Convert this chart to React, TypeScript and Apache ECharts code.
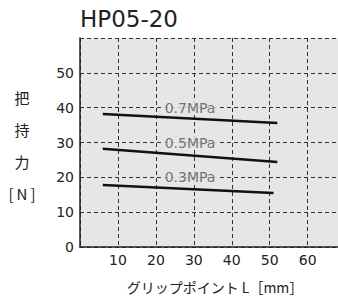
import React, { useEffect, useRef } from "react";
import * as echarts from "echarts";

const title = "HP05-20";
const yAxisTitle = "把\n持\n力\n[\u2009N\u2009]";
const xAxisTitle = "グリップポイント L［mm］";

const pressureNames = ["0.7MPa", "0.5MPa", "0.3MPa"];
const lineX07 = [6, 52];
const force07 = [38.2, 35.6];
const lineX05 = [6, 52];
const force05 = [28.2, 24.4];
const lineX03 = [6, 51];
const force03 = [17.8, 15.5];
const labelX = [29, 29, 29];
const labelY = [40, 30, 20];

const num = "'DejaVu Sans', sans-serif";
const jp = "'Noto Sans CJK JP', sans-serif";

export default function App() {
  const ref = useRef<HTMLDivElement>(null);
  useEffect(() => {
    if (!ref.current) return;
    const chart = echarts.init(ref.current, null, { renderer: "svg" });
    const mk = (xs: number[], ys: number[]) => xs.map((x, i) => [x, ys[i]]);
    const option: any = {
      animation: false,
      grid: {
        left: 80,
        top: 38,
        right: 0,
        bottom: 51,
        show: true,
        backgroundColor: "#e6e6e6",
        borderWidth: 0,
        containLabel: false,
        outerBoundsMode: "none",
      },
      xAxis: {
        type: "value",
        min: 0,
        max: 68,
        interval: 10,
        axisLine: { show: true, onZero: false, lineStyle: { color: "#222", width: 1.5 } },
        axisTick: { show: false },
        axisLabel: {
          formatter: (v: number) => (v === 0 || v > 60 ? "" : String(v)),
          showMaxLabel: false,
          color: "#222",
          fontSize: 14,
          margin: 6,
          fontFamily: num,
        },
        splitLine: {
          show: true,
          showMaxLine: false,
          lineStyle: { type: [4, 3], color: "#333", width: 1 },
        },
      },
      yAxis: {
        type: "value",
        min: 0,
        max: 60,
        interval: 10,
        axisLine: { show: true, onZero: false, lineStyle: { color: "#222", width: 1.5 } },
        axisTick: { show: false },
        axisLabel: {
          formatter: (v: number) => (v === 60 ? "" : String(v)),
          color: "#222",
          fontSize: 14,
          margin: 6,
          fontFamily: num,
        },
        splitLine: { show: true, lineStyle: { type: [4, 3], color: "#333", width: 1 } },
      },
      series: [
        { type: "line", data: mk(lineX07, force07), symbol: "none", lineStyle: { color: "#111", width: 2.5 } },
        { type: "line", data: mk(lineX05, force05), symbol: "none", lineStyle: { color: "#111", width: 2.5 } },
        { type: "line", data: mk(lineX03, force03), symbol: "none", lineStyle: { color: "#111", width: 2.5 } },
        {
          type: "scatter",
          symbolSize: 0,
          z: 5,
          data: labelX.map((x, i) => ({ value: [x, labelY[i]], name: pressureNames[i] })),
          label: {
            show: true,
            position: "inside",
            formatter: (p: any) => p.name,
            color: "#555",
            fontSize: 14,
            fontFamily: num,
            backgroundColor: "#e6e6e6",
            padding: [0, 2],
          },
        },
      ],
      graphic: [
        {
          type: "text",
          left: 80,
          top: 7,
          style: { text: title, fontSize: 23, fontFamily: num, fill: "#222" },
        },
        {
          type: "text",
          x: 22,
          y: 145,
          style: {
            text: yAxisTitle,
            fontSize: 15,
            fontFamily: jp,
            fill: "#222",
            align: "center",
            verticalAlign: "middle",
            lineHeight: 32,
          },
        },
        {
          type: "text",
          x: 215,
          y: 287,
          style: {
            text: xAxisTitle,
            fontSize: 14,
            fontFamily: jp,
            fill: "#222",
            align: "center",
            verticalAlign: "middle",
          },
        },
      ],
    };
    chart.setOption(option);
    return () => chart.dispose();
  }, []);
  return (
    <div
      ref={ref}
      style={{ position: "fixed", left: 0, top: 0, width: 338, height: 298, background: "#fff" }}
    />
  );
}
